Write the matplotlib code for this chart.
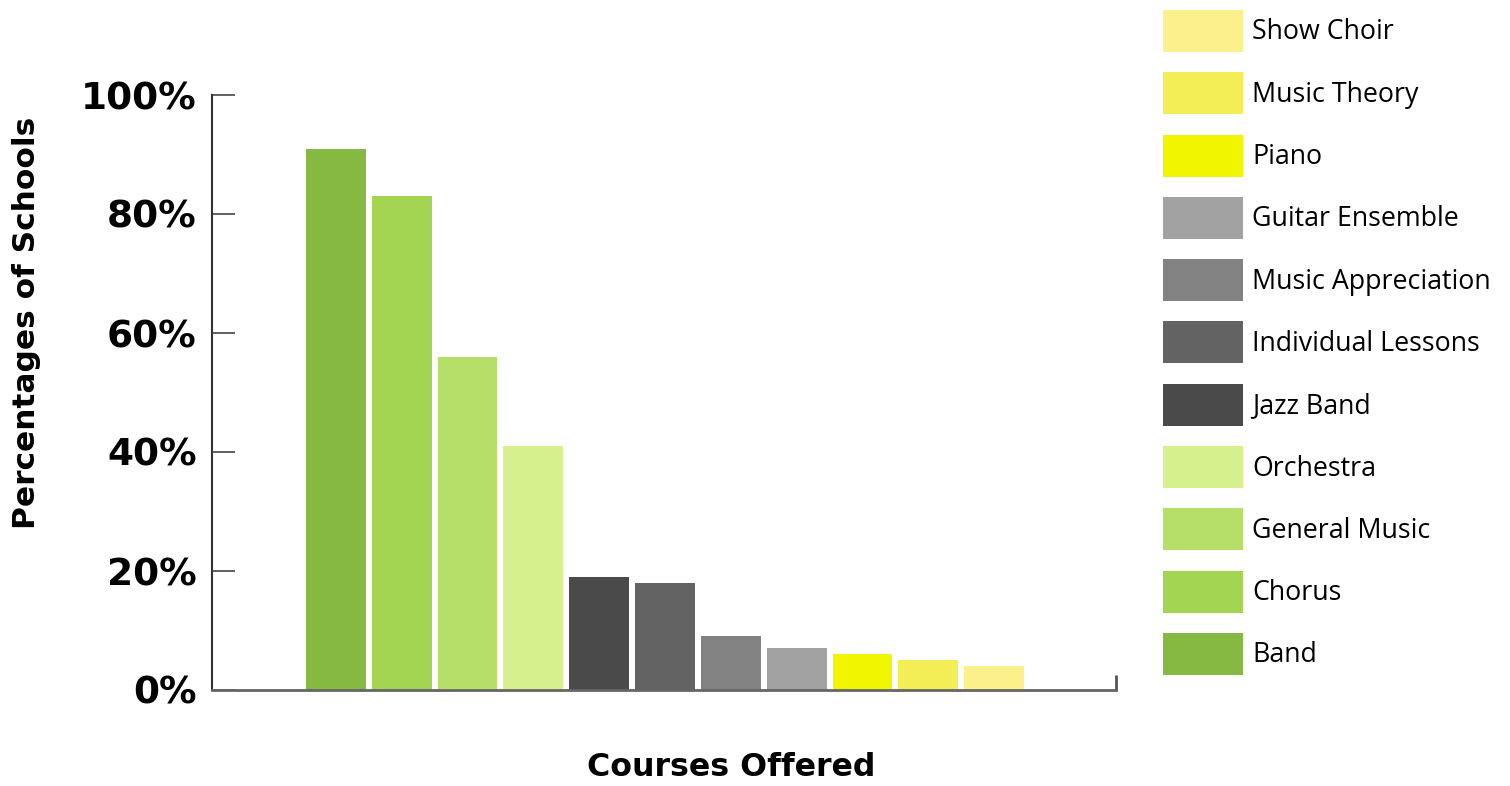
import matplotlib
matplotlib.use("Agg")
import matplotlib.pyplot as plt
from matplotlib.patches import Patch

courses = ["Band", "Chorus", "General Music", "Orchestra", "Jazz Band",
           "Individual Lessons", "Music Appreciation", "Guitar Ensemble",
           "Piano", "Music Theory", "Show Choir"]
values = [91, 83, 56, 41, 19, 18, 9, 7, 6, 5, 4]
colors = ["#86b942", "#a3d552", "#b6df6a", "#d6f08d", "#4a4a4a", "#636363",
          "#828282", "#a2a2a2", "#f2f500", "#f4ee56", "#fcf08a"]
yticks = [0, 20, 40, 60, 80, 100]
ytick_labels = ["0%", "20%", "40%", "60%", "80%", "100%"]

W, H = 1510, 786
fig = plt.figure(figsize=(W / 100, H / 100), dpi=100)
ax = fig.add_axes([212 / W, 1 - 690 / H, (1116 - 212) / W, (690 - 95) / H])

x = list(range(len(courses)))
ax.bar(x, values, width=0.91, color=colors)
ax.set_xlim(-1.88, len(courses) - 1 + 1.85)
ax.set_ylim(0, 100)

bold = ["DejaVu Sans"]
ax.set_yticks(yticks)
ax.set_yticklabels(ytick_labels, fontsize=27, fontweight="bold", family=bold)
ax.tick_params(axis="y", direction="in", length=16.5, width=1.2, color="#444444", pad=11)
ax.set_xticks([len(courses) - 1 + 1.85])
ax.set_xticklabels([""])
ax.tick_params(axis="x", direction="in", length=11, width=2, color="#555555")

for s in ["top", "right"]:
    ax.spines[s].set_visible(False)
ax.spines["left"].set_color("#333333")
ax.spines["left"].set_linewidth(1.5)
ax.spines["bottom"].set_color("#666666")
ax.spines["bottom"].set_linewidth(2)

ax.set_ylabel("Percentages of Schools", fontsize=22.5, fontweight="bold", family=bold)
ax.yaxis.label.set_va("center")
ax.yaxis.set_label_coords((26 - 212) / 904, (690 - 323) / 595)
ax.set_xlabel("Courses Offered", fontsize=22.8, fontweight="bold", family=bold)
ax.xaxis.label.set_va("center")
ax.xaxis.set_label_coords((731 - 212) / 904, (690 - 768) / 595)

fs = 19.3
fpx = fs * 100 / 72
patch_h = 42 / fpx
hh = (patch_h - 0.245) / 0.65
handles = [Patch(facecolor=c, edgecolor="none", label=n) for n, c in zip(courses, colors)][::-1]
fig.legend(handles=handles, loc="upper left", bbox_to_anchor=(1163 / W, 1 - 10 / H),
           frameon=False, borderpad=0, borderaxespad=0,
           prop={"family": ["Open Sans", "DejaVu Sans"], "size": fs},
           handlelength=80 / fpx, handleheight=hh,
           labelspacing=(62.3 - 42) / fpx, handletextpad=9 / fpx)

fig.savefig("out.png", dpi=100)
